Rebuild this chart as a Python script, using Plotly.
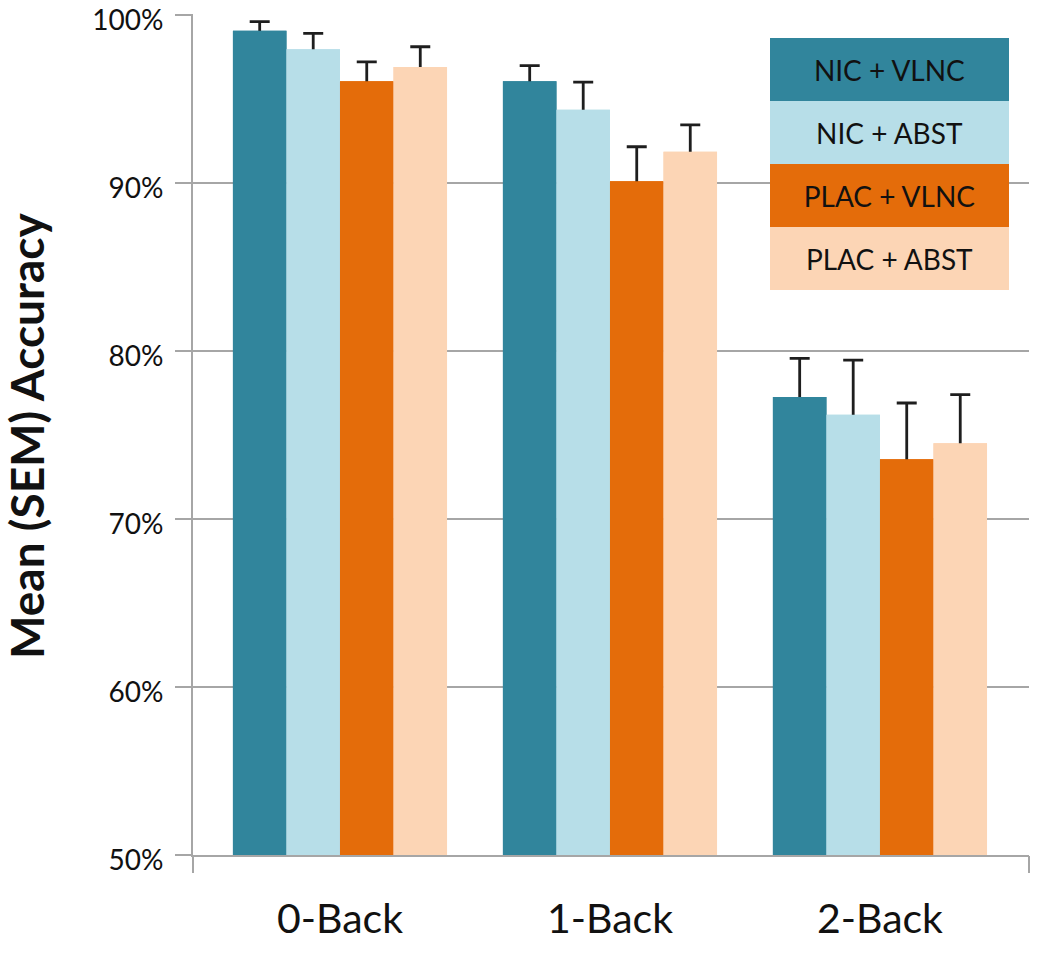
import plotly.graph_objects as go

categories = ["0-Back", "1-Back", "2-Back"]
series_names = ["NIC + VLNC", "NIC + ABST", "PLAC + VLNC", "PLAC + ABST"]
nic_vlnc = [99.05, 96.05, 77.25]
nic_abst = [97.95, 94.35, 76.2]
plac_vlnc = [96.05, 90.1, 73.55]
plac_abst = [96.9, 91.85, 74.5]
nic_vlnc_sem = [0.55, 0.93, 2.3]
nic_abst_sem = [0.95, 1.65, 3.25]
plac_vlnc_sem = [1.15, 2.05, 3.35]
plac_abst_sem = [1.2, 1.6, 2.9]
y_ticks = [50, 60, 70, 80, 90, 100]
y_tick_labels = ["50%", "60%", "70%", "80%", "90%", "100%"]

colors = ["#31859C", "#B7DEE8", "#E46C0A", "#FCD5B5"]
values = [nic_vlnc, nic_abst, plac_vlnc, plac_abst]
sems = [nic_vlnc_sem, nic_abst_sem, plac_vlnc_sem, plac_abst_sem]

W, H = 1050, 954
L, R, T, B = 193, 21, 14, 99
pw, ph = W - L - R, H - T - B

xr = [-0.5444, 2.552]
yr = [50, 100.05]
GRAY = "#A6A6A6"

fig = go.Figure()
# bars carrying the (SEM) error bars
for i, (name, vals, err, col) in enumerate(zip(series_names, values, sems, colors)):
    fig.add_trace(go.Bar(
        x=categories, y=vals, name=name, marker_color=col, marker_line_width=0,
        offsetgroup=str(i),
        error_y=dict(type="data", array=err, symmetric=True,
                     color="#1E1E1E", thickness=2.8, width=10),
        showlegend=False,
    ))
# same bars again on top, hiding the lower half of each error bar
for i, (name, vals, col) in enumerate(zip(series_names, values, colors)):
    fig.add_trace(go.Bar(
        x=categories, y=vals, name=name, marker_color=col, marker_line_width=0,
        offsetgroup=str(i), showlegend=False, hoverinfo="skip",
    ))

# invisible trace to drive the boundary tick axis
fig.add_trace(go.Scatter(x=xr, y=[None, None], xaxis="x2", yaxis="y",
                         mode="markers", showlegend=False, hoverinfo="skip"))

def px_to_paper_x(px):
    return (px - L) / pw

def px_to_paper_y(py):
    return (H - B - py) / ph

annotations = []
leg_left, leg_right, leg_top, row_h = 770, 1009, 38, 63
for i, (name, col) in enumerate(zip(series_names, colors)):
    cy = leg_top + row_h * (i + 0.5)
    annotations.append(dict(
        x=px_to_paper_x((leg_left + leg_right) / 2), y=px_to_paper_y(cy),
        xref="paper", yref="paper", xanchor="center", yanchor="middle",
        text=name, showarrow=False, bgcolor=col, width=leg_right - leg_left,
        height=row_h, borderpad=0, borderwidth=0,
        font=dict(family="Lato", size=28, color="#111111"),
    ))

annotations.append(dict(
    x=px_to_paper_x(26), y=px_to_paper_y(436), xref="paper", yref="paper",
    xanchor="center", yanchor="middle", textangle=-90, showarrow=False,
    text="<b>Mean (SEM) Accuracy</b>",
    font=dict(family="Lato", size=46, color="#111111"),
))

fig.update_layout(
    width=W, height=H,
    margin=dict(l=L, r=R, t=T, b=B, autoexpand=False),
    paper_bgcolor="white", plot_bgcolor="white",
    barmode="group", bargap=0.207, bargroupgap=0,
    xaxis=dict(range=xr, type="category", showline=True, linecolor=GRAY, linewidth=2,
               ticks="", showgrid=False, tickfont=dict(family="Lato", size=41, color="#111111"),
               ticklabelstandoff=27, zeroline=False, automargin=False),
    xaxis2=dict(range=xr, overlaying="x", anchor="y", side="bottom", showticklabels=False,
                tickmode="array", tickvals=xr, ticks="outside", ticklen=17, tickwidth=2,
                tickcolor=GRAY, showgrid=False, showline=False, zeroline=False,
                automargin=False),
    yaxis=dict(range=yr, tickvals=y_ticks, ticktext=y_tick_labels,
               showline=True, linecolor=GRAY, linewidth=2,
               showgrid=True, gridcolor=GRAY, gridwidth=2,
               ticks="outside", ticklen=16, tickwidth=2, tickcolor=GRAY,
               ticklabelstandoff=6, ticklabelshift=5, ticklabeloverflow="allow",
               automargin=False,
               tickfont=dict(family="Lato", size=28, color="#111111"), zeroline=False),
    annotations=annotations,
)

fig.write_html("out.html", config={"displayModeBar": False},
               post_script="document.body.style.margin='0';")
